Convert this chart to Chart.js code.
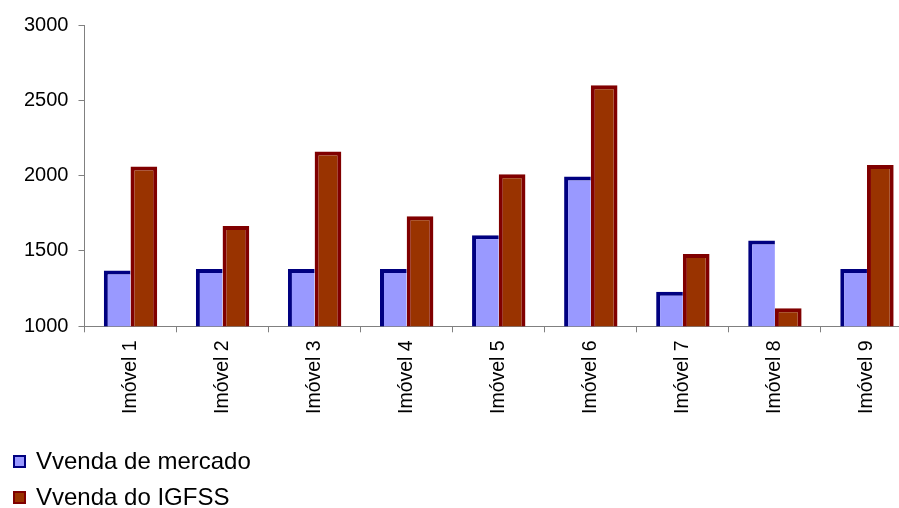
<!DOCTYPE html>
<html>
<head>
<meta charset="utf-8">
<script src="https://cdn.jsdelivr.net/npm/chart.js@4.4.1/dist/chart.umd.min.js"></script>
<style>
  html, body { margin: 0; padding: 0; background: #fff; overflow: hidden; width: 899px; height: 508px; }
  #wrap { position: relative; width: 918px; height: 432px; }
  #legend { position: absolute; left: 0; top: 0; width: 899px; height: 508px; pointer-events: none;
            font-family: "Liberation Sans", Arial, sans-serif; font-size: 24px; color: #000; }
  .item { position: absolute; left: 13px; display: flex; align-items: center; white-space: nowrap; }
  .box { width: 9px; height: 9px; border-style: solid; border-width: 2px; margin-right: 10px; }
</style>
</head>
<body>
<div id="wrap"><canvas id="c" width="918" height="432"></canvas></div>
<div id="legend"></div>
<script>
// Properties and their two sale values
const categories = ['Imóvel 1', 'Imóvel 2', 'Imóvel 3', 'Imóvel 4', 'Imóvel 5', 'Imóvel 6', 'Imóvel 7', 'Imóvel 8', 'Imóvel 9'];
const seriesNames = ['Vvenda de mercado', 'Vvenda do IGFSS'];
const vendaMercado = [1370, 1380, 1380, 1380, 1605, 1995, 1230, 1570, 1380];
const vendaIGFSS = [2060, 1665, 2160, 1730, 2010, 2600, 1480, 1120, 2070];
const yTicks = [1000, 1500, 2000, 2500, 3000];

const axisGray = '#808080';
const fontFamily = '"Liberation Sans", Arial, sans-serif';

const chart = new Chart(document.getElementById('c'), {
  type: 'bar',
  data: {
    labels: categories,
    datasets: [
      {
        label: seriesNames[0],
        data: vendaMercado,
        backgroundColor: '#9999FF',
        borderColor: '#000080',
        borderWidth: 4,
        // the neighbouring red bar's left edge closes this side
        borderSkipped: 'right'
      },
      {
        label: seriesNames[1],
        data: vendaIGFSS,
        backgroundColor: '#993300',
        borderColor: '#800000',
        borderWidth: 4,
        borderSkipped: false
      }
    ]
  },
  options: {
    responsive: false,
    animation: false,
    events: [],
    layout: { padding: { left: 14, top: 25, right: 5, bottom: 10 } },
    datasets: { bar: { categoryPercentage: 0.58, barPercentage: 1.0 } },
    plugins: {
      legend: { display: false },
      tooltip: { enabled: false }
    },
    scales: {
      x: {
        offset: true,
        grid: { display: true, drawOnChartArea: false, drawTicks: true, tickLength: 6, color: axisGray, offset: true },
        border: { display: true, color: axisGray, width: 1 },
        ticks: {
          color: '#000',
          font: { family: fontFamily, size: 19.5 },
          minRotation: 90,
          maxRotation: 90,
          padding: 8,
          autoSkip: false
        }
      },
      y: {
        min: yTicks[0],
        max: yTicks[yTicks.length - 1],
        afterBuildTicks: (axis) => { axis.ticks = yTicks.map(v => ({ value: v })); },
        grid: { display: true, drawOnChartArea: false, drawTicks: true, tickLength: 6, color: axisGray },
        border: { display: true, color: axisGray, width: 1 },
        ticks: {
          color: '#000',
          font: { family: fontFamily, size: 20 },
          padding: 10,
          callback: (v) => String(v)
        }
      }
    }
  }
});

// Legend stacked below the plot, one series per row
const legendEl = document.getElementById('legend');
const rowCenters = [461, 497];
chart.data.datasets.forEach((ds, i) => {
  const item = document.createElement('div');
  item.className = 'item';
  item.style.top = (rowCenters[i] - 14) + 'px';
  item.style.height = '28px';
  const box = document.createElement('span');
  box.className = 'box';
  box.style.background = ds.backgroundColor;
  box.style.borderColor = ds.borderColor;
  const text = document.createElement('span');
  text.textContent = ds.label;
  item.appendChild(box);
  item.appendChild(text);
  legendEl.appendChild(item);
});
</script>
</body>
</html>
